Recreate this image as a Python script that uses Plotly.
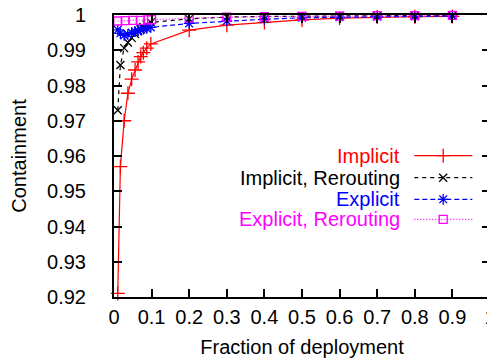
import plotly.graph_objects as go

# ---- data ----
x_vals = [0.01, 0.017, 0.027, 0.037, 0.047, 0.056, 0.064, 0.071, 0.078, 0.087, 0.098,
          0.2, 0.3, 0.4, 0.5, 0.6, 0.7, 0.8, 0.9]
implicit = [0.921, 0.957, 0.970, 0.9778, 0.9818, 0.9844, 0.9867, 0.9882, 0.9893, 0.9906, 0.9918,
            0.9957, 0.9971, 0.9979, 0.9986, 0.9991, 0.9994, 0.9995, 0.9996]
implicit_rerouting = [0.973, 0.9858, 0.9906, 0.9922, 0.9935, 0.9946, 0.9954, 0.996, 0.9966, 0.9972, 0.9979,
                      0.9989, 0.9994, 0.9996, 0.9997, 0.9998, 0.9998, 0.9999, 0.9999]
explicit = [0.9958, 0.9948, 0.9942, 0.9945, 0.995, 0.9953, 0.9956, 0.9958, 0.996, 0.9962, 0.9965,
            0.9976, 0.9983, 0.9988, 0.9992, 0.9994, 0.9995, 0.9996, 0.9997]
x_vals_er = [0.01, 0.03, 0.05, 0.07, 0.09, 0.1, 0.2, 0.3, 0.4, 0.5, 0.6, 0.7, 0.8, 0.9]
explicit_rerouting = [0.9983, 0.9984, 0.9985, 0.9985, 0.9986, 0.9987,
                      0.9991, 0.9994, 0.9995, 0.9996, 0.9997, 0.9998, 0.9998, 0.9999]

series_names = ["Implicit", "Implicit, Rerouting", "Explicit", "Explicit, Rerouting"]
series_x = [x_vals, x_vals, x_vals, x_vals_er]
series_values = [implicit, implicit_rerouting, explicit, explicit_rerouting]

x_ticks = [0, 0.1, 0.2, 0.3, 0.4, 0.5, 0.6, 0.7, 0.8, 0.9, 1]
x_ticklabels = ["0", "0.1", "0.2", "0.3", "0.4", "0.5", "0.6", "0.7", "0.8", "0.9", "1"]
y_ticks = [0.92, 0.93, 0.94, 0.95, 0.96, 0.97, 0.98, 0.99, 1]
y_ticklabels = ["0.92", "0.93", "0.94", "0.95", "0.96", "0.97", "0.98", "0.99", "1"]

# ---- styles ----
colors = ["#ff0000", "#000000", "#0000ff", "#ff00ff"]
dashes = ["solid", "4px,4px", "5px,3px", "1px,2px"]
symbols = ["cross-thin", "x-thin", "asterisk", "square-open"]
msizes = [10, 8, 9, 8]
FONT = "Liberation Sans, Arial, sans-serif"
FS = 20

fig = go.Figure()
for name, xs, vals, c, d, s, ms in zip(series_names, series_x, series_values, colors, dashes, symbols, msizes):
    fig.add_trace(go.Scatter(
        x=xs, y=vals, mode="lines+markers", name=name, showlegend=False,
        line=dict(color=c, width=1.2, dash=d),
        marker=dict(symbol=s, size=ms, color=c, line=dict(color=c, width=1.3)),
        cliponaxis=False,
    ))

# ---- custom legend (text right, sample line on the right) ----
leg_rows_y = [0.501, 0.423, 0.3465, 0.2755]
leg_x0, leg_x1, leg_xm, leg_text_x = 0.7987, 0.953, 0.8755, 0.765
for name, c, d, s, ms, ly in zip(series_names, colors, dashes, symbols, msizes, leg_rows_y):
    fig.add_trace(go.Scatter(
        x=[leg_x0, leg_x1], y=[ly, ly], xaxis="x2", yaxis="y2", mode="lines",
        line=dict(color=c, width=1.2, dash=d), showlegend=False, hoverinfo="skip"))
    fig.add_trace(go.Scatter(
        x=[leg_xm], y=[ly], xaxis="x2", yaxis="y2", mode="markers",
        marker=dict(symbol=s, size=ms, color=c, line=dict(color=c, width=1.3)),
        showlegend=False, hoverinfo="skip"))
    fig.add_annotation(x=leg_text_x, y=ly, xref="x2", yref="y2", text=name,
                       showarrow=False, xanchor="right", yanchor="middle",
                       font=dict(family=FONT, size=FS, color=c))

axis_common = dict(
    showgrid=False, zeroline=False, showline=True, linecolor="black", linewidth=2,
    mirror="ticks", ticks="inside", ticklen=8, tickwidth=1.5, tickcolor="black",
    tickfont=dict(family=FONT, size=FS, color="black"),
    ticklabeloverflow="allow",
)

# page body has an 8px default margin, so the figure is sized to fit the 495x358 window
fig.update_layout(
    width=487, height=350,
    margin=dict(l=106, r=5, t=7, b=61),
    paper_bgcolor="white", plot_bgcolor="white",
    showlegend=False,
    xaxis=dict(range=[0, 1], tickvals=x_ticks, ticktext=x_ticklabels,
               title=dict(text="Fraction of deployment", font=dict(family=FONT, size=FS, color="black"), standoff=13),
               ticklabelstandoff=1, automargin=False, **axis_common),
    yaxis=dict(range=[0.92, 1], tickvals=y_ticks, ticktext=y_ticklabels,
               title=dict(text="Containment", font=dict(family=FONT, size=FS, color="black"), standoff=25),
               ticklabelstandoff=22, automargin=False, **axis_common),
    xaxis2=dict(range=[0, 1], overlaying="x", visible=False),
    yaxis2=dict(range=[0, 1], overlaying="y", visible=False),
)

fig.write_html("out.html")
